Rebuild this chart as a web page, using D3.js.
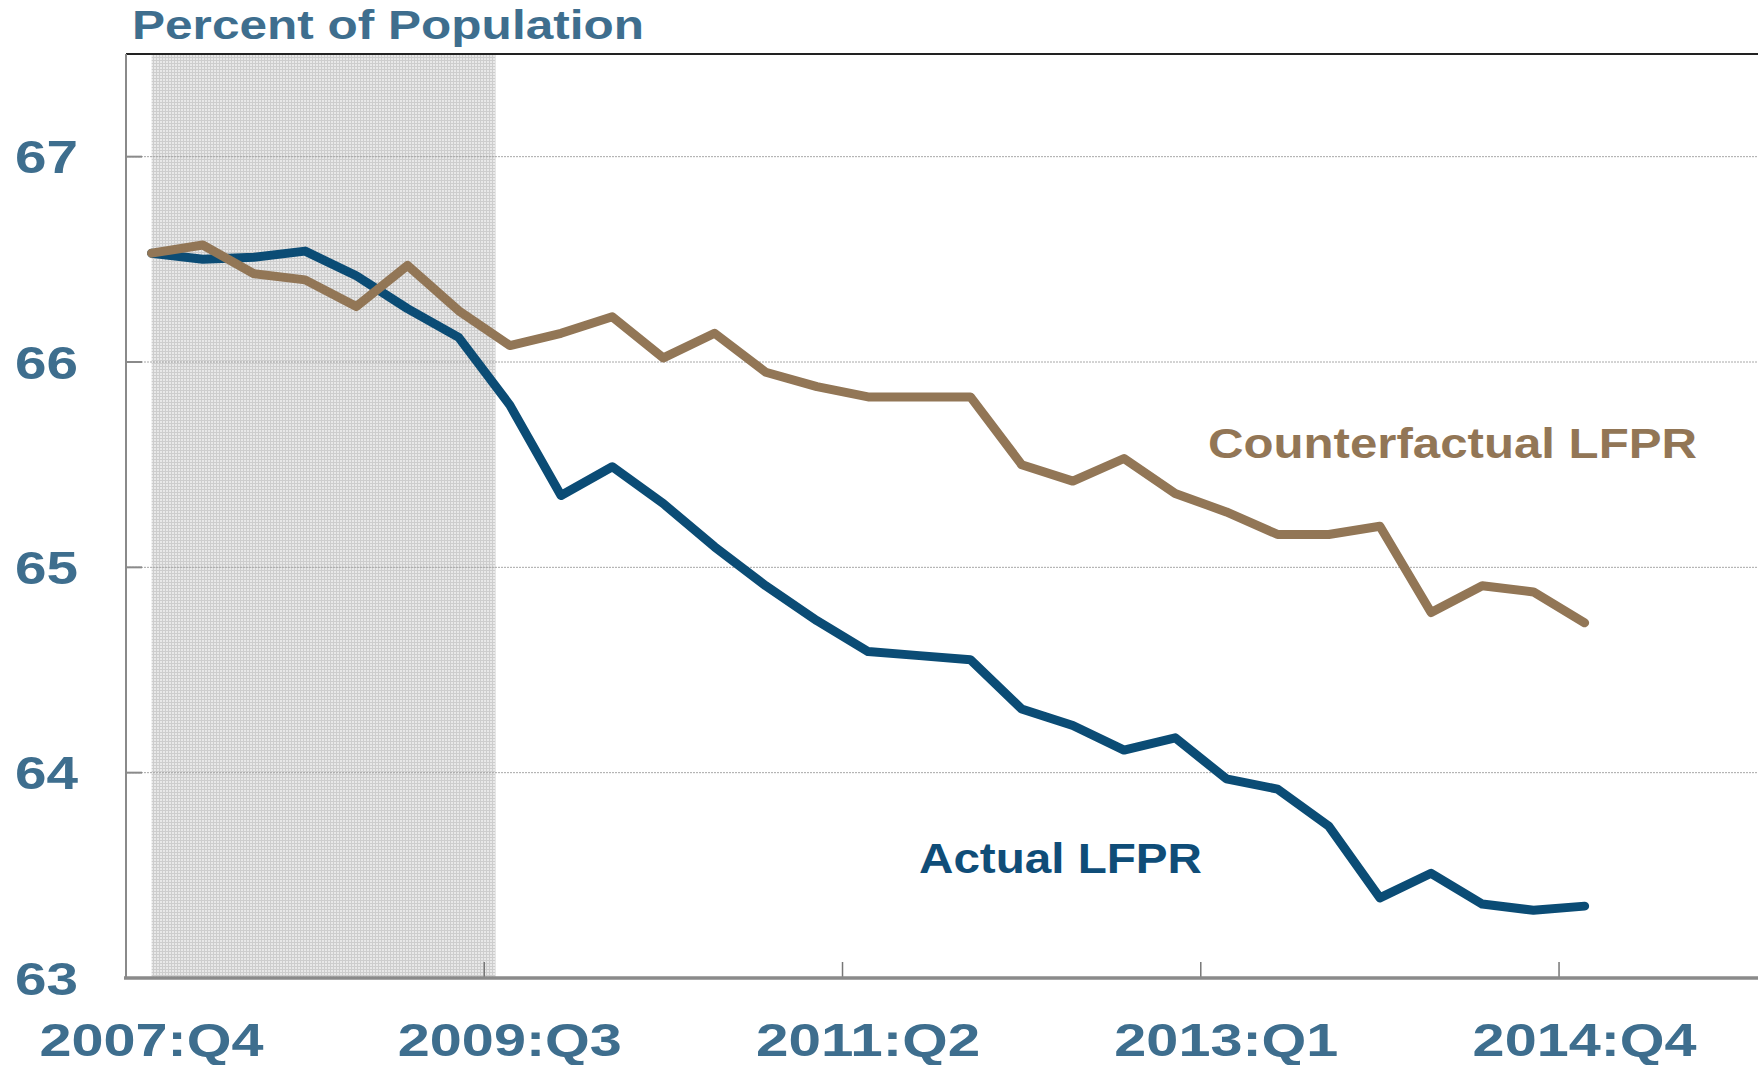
<!DOCTYPE html>
<html>
<head>
<meta charset="utf-8">
<script src="https://cdn.jsdelivr.net/npm/d3@7"></script>
<style>
  html, body { margin: 0; padding: 0; background: #fff; }
  svg { display: block; font-family: "Liberation Sans", Arial, sans-serif; font-weight: bold; }
</style>
</head>
<body>
<svg width="1758" height="1065"></svg>
<script>
// quarters on the category axis (axis runs a little past the last data point)
var quarters = ["2007:Q4","2008:Q1","2008:Q2","2008:Q3","2008:Q4","2009:Q1","2009:Q2","2009:Q3",
  "2009:Q4","2010:Q1","2010:Q2","2010:Q3","2010:Q4","2011:Q1","2011:Q2","2011:Q3","2011:Q4",
  "2012:Q1","2012:Q2","2012:Q3","2012:Q4","2013:Q1","2013:Q2","2013:Q3","2013:Q4","2014:Q1",
  "2014:Q2","2014:Q3","2014:Q4","2015:Q1","2015:Q2","2015:Q3"];
var tickLabels = ["2007:Q4","2009:Q3","2011:Q2","2013:Q1","2014:Q4"];
var tickMarks = ["2009:Q3","2011:Q2","2013:Q1","2014:Q4"];
var yTicks = [63, 64, 65, 66, 67];

var actual = [66.53, 66.50, 66.51, 66.54, 66.42, 66.26, 66.12, 65.79, 65.35, 65.49, 65.31, 65.10,
  64.91, 64.74, 64.59, 64.57, 64.55, 64.31, 64.23, 64.11, 64.17, 63.97, 63.92, 63.74, 63.39,
  63.51, 63.36, 63.33, 63.35];
var counterfactual = [66.53, 66.57, 66.43, 66.40, 66.27, 66.47, 66.25, 66.08, 66.14, 66.22, 66.02,
  66.14, 65.95, 65.88, 65.83, 65.83, 65.83, 65.50, 65.42, 65.53, 65.36, 65.27, 65.16, 65.16,
  65.20, 64.78, 64.91, 64.88, 64.73];

// recession shading, in quarter index units (2007:Q4 = 0)
var recession = [0, 6.72];

var plotLeft = 126, plotRight = 1758, plotTop = 54, plotBottom = 978;
var blue = "#0b4c75", brown = "#927656", labelBlue = "#3e6e8e";

var svg = d3.select("svg");

var x = d3.scaleBand()
  .domain(quarters)
  .range([plotLeft, plotLeft + quarters.length * 51.18])
  .paddingInner(0).paddingOuter(0);
var bw = x.bandwidth();
var xc = function(q){ return x(q) + bw / 2; };
var xi = d3.scaleLinear().domain([0, 1]).range([xc(quarters[0]), xc(quarters[1])]);

var y = d3.scaleLinear().domain([63, 67.5]).range([plotBottom, plotTop]);

// recession pattern
var defs = svg.append("defs");
var pat = defs.append("pattern")
  .attr("id", "stip")
  .attr("width", 3).attr("height", 3)
  .attr("patternUnits", "userSpaceOnUse");
pat.append("rect").attr("width", 3).attr("height", 3).attr("fill", "#e8e8e8");
pat.append("rect").attr("width", 3).attr("height", 1).attr("fill", "#cdcdcd");
pat.append("rect").attr("width", 1).attr("height", 3).attr("fill", "#cdcdcd");

svg.append("rect")
  .attr("x", xi(recession[0]))
  .attr("y", plotTop)
  .attr("width", xi(recession[1]) - xi(recession[0]))
  .attr("height", plotBottom - plotTop)
  .attr("fill", "url(#stip)");

// gridlines
svg.append("g").selectAll("line")
  .data(yTicks.filter(function(d){ return d > 63; }))
  .enter().append("line")
  .attr("x1", plotLeft).attr("x2", plotRight)
  .attr("y1", function(d){ return y(d); })
  .attr("y2", function(d){ return y(d); })
  .attr("stroke", "#a8a8a8")
  .attr("stroke-width", 1)
  .attr("stroke-dasharray", "2,1");

// small solid ticks on left axis
svg.append("g").selectAll("line")
  .data(yTicks.filter(function(d){ return d > 63; }))
  .enter().append("line")
  .attr("x1", plotLeft).attr("x2", plotLeft + 16)
  .attr("y1", function(d){ return y(d); })
  .attr("y2", function(d){ return y(d); })
  .attr("stroke", "#8a8a8a")
  .attr("stroke-width", 2);

// frame
svg.append("line")
  .attr("x1", plotLeft).attr("x2", plotRight).attr("y1", plotTop).attr("y2", plotTop)
  .attr("stroke", "#222").attr("stroke-width", 2);
svg.append("line")
  .attr("x1", plotLeft).attr("x2", plotLeft).attr("y1", plotTop).attr("y2", plotBottom)
  .attr("stroke", "#8a8a8a").attr("stroke-width", 2);

// x ticks at category boundaries
svg.append("g").selectAll("line")
  .data(tickMarks)
  .enter().append("line")
  .attr("x1", function(d){ return x(d); })
  .attr("x2", function(d){ return x(d); })
  .attr("y1", plotBottom - 16).attr("y2", plotBottom)
  .attr("stroke", "#777").attr("stroke-width", 1.5);

svg.append("line")
  .attr("x1", plotLeft - 2).attr("x2", plotRight).attr("y1", plotBottom).attr("y2", plotBottom)
  .attr("stroke", "#8a8a8a").attr("stroke-width", 3.5);

// series
var line = d3.line()
  .x(function(d, i){ return xc(quarters[i]); })
  .y(function(d){ return y(d); });

svg.append("path")
  .datum(actual)
  .attr("d", line)
  .attr("fill", "none")
  .attr("stroke", blue)
  .attr("stroke-width", 9)
  .attr("stroke-linejoin", "round")
  .attr("stroke-linecap", "round");

svg.append("path")
  .datum(counterfactual)
  .attr("d", line)
  .attr("fill", "none")
  .attr("stroke", brown)
  .attr("stroke-width", 9)
  .attr("stroke-linejoin", "round")
  .attr("stroke-linecap", "round");

// y labels
svg.append("g").selectAll("text")
  .data(yTicks)
  .enter().append("text")
  .attr("x", 15)
  .attr("y", function(d){ return y(d) + 16.5; })
  .attr("font-size", 46)
  .attr("fill", labelBlue)
  .attr("textLength", 63)
  .attr("lengthAdjust", "spacingAndGlyphs")
  .text(function(d){ return d; });

// x labels
svg.append("g").selectAll("text")
  .data(tickLabels)
  .enter().append("text")
  .attr("x", function(d){ return xc(d) - 112; })
  .attr("y", 1056)
  .attr("font-size", 46)
  .attr("fill", labelBlue)
  .attr("textLength", 224)
  .attr("lengthAdjust", "spacingAndGlyphs")
  .text(function(d){ return d; });

// title and series labels
svg.append("text")
  .attr("x", 132).attr("y", 39)
  .attr("font-size", 40)
  .attr("fill", labelBlue)
  .attr("textLength", 512)
  .attr("lengthAdjust", "spacingAndGlyphs")
  .text("Percent of Population");

svg.append("text")
  .attr("x", 1208).attr("y", 458)
  .attr("font-size", 42)
  .attr("fill", brown)
  .attr("textLength", 489)
  .attr("lengthAdjust", "spacingAndGlyphs")
  .text("Counterfactual LFPR");

svg.append("text")
  .attr("x", 919).attr("y", 873)
  .attr("font-size", 43)
  .attr("fill", "#0f4d78")
  .attr("textLength", 283)
  .attr("lengthAdjust", "spacingAndGlyphs")
  .text("Actual LFPR");
</script>
</body>
</html>
